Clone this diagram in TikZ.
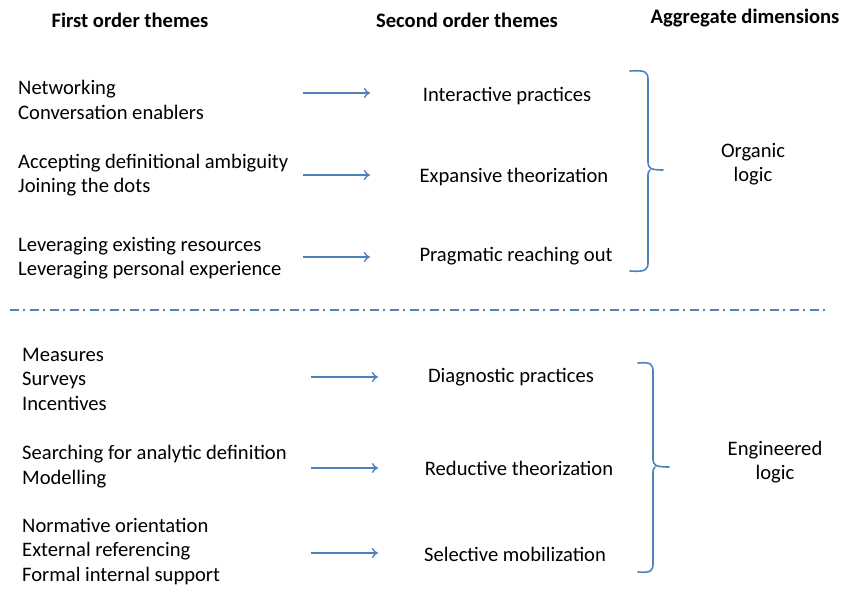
\documentclass[tikz,border=0pt]{standalone}
\usepackage{fontspec}
\setmainfont{Carlito}
\usepackage{tikz}
\usetikzlibrary{arrows.meta}
\definecolor{officeblue}{HTML}{4F81BD}

\begin{document}
\begin{tikzpicture}[x=1pt, y=-1pt,
  txt/.style={font=\fontsize{20.6}{24.5}\selectfont, inner sep=0pt, align=left},
  head/.style={font=\fontsize{20.6}{24.5}\selectfont\bfseries, inner sep=0pt},
  themearrow/.style={officeblue, line width=1.4pt, -{To[length=6pt,width=10pt]}},
  bracket/.style={officeblue, line width=1.6pt, line cap=round, line join=round}]
  \useasboundingbox (0,0) rectangle (845,591);
  % headers
  \node[head] (h1) at (130,20) {First order themes};
  \node[head] (h2) at (467,20) {Second order themes};
  \node[head] (h3) at (745,18) {Aggregate dimensions};
  % organic part
  \node[txt, anchor=west] (f1) at (18,100) {Networking\\Conversation enablers};
  \node[txt, anchor=west] (f2) at (18,175) {Accepting definitional ambiguity\\Joining the dots};
  \node[txt, anchor=west] (f3) at (18,258) {Leveraging existing resources\\Leveraging personal experience};
  \node[txt] (s1) at (507,96) {Interactive practices};
  \node[txt] (s2) at (514,177) {Expansive theorization};
  \node[txt] (s3) at (516,256) {Pragmatic reaching out};
  \coordinate (a1) at (303,93);  \coordinate (b1) at (370,93);
  \coordinate (a2) at (303,175); \coordinate (b2) at (370,175);
  \coordinate (a3) at (303,257); \coordinate (b3) at (370,257);
  \draw[themearrow] (a1) -- (b1);
  \draw[themearrow] (a2) -- (b2);
  \draw[themearrow] (a3) -- (b3);
  \draw[bracket] (630,71) .. controls (646,70) and (648,72) .. (648,80) -- (648,162)
    .. controls (648,168) and (650,170) .. (663,170)
    (650,170) .. controls (648,172) .. (648,178) -- (648,262)
    .. controls (648,270) and (646,272) .. (630,271);
  \node[txt, align=center] (d1) at (753,164) {Organic\\logic};
  % separator
  \draw[officeblue, line width=2pt, dash pattern=on 9pt off 4pt on 2pt off 5pt] (10,310) -- (828,310);
  % engineered part
  \node[txt, anchor=west] (f4) at (22,379) {Measures\\Surveys\\Incentives};
  \node[txt, anchor=west] (f5) at (22,466.5) {Searching for analytic definition\\Modelling};
  \node[txt, anchor=west] (f6) at (22,551.5) {Normative orientation\\External referencing\\Formal internal support};
  \node[txt] (s4) at (511,377) {Diagnostic practices};
  \node[txt] (s5) at (519,468) {Reductive theorization};
  \node[txt] (s6) at (515,554) {Selective mobilization};
  \coordinate (a4) at (311,377); \coordinate (b4) at (378,377);
  \coordinate (a5) at (311,468); \coordinate (b5) at (378,468);
  \coordinate (a6) at (311,553); \coordinate (b6) at (378,553);
  \draw[themearrow] (a4) -- (b4);
  \draw[themearrow] (a5) -- (b5);
  \draw[themearrow] (a6) -- (b6);
  \draw[bracket] (638,363) .. controls (651,362) and (653,364) .. (653,372) -- (653,459)
    .. controls (653,465) and (655,467) .. (669,467)
    (655,467) .. controls (653,469) .. (653,475) -- (653,563)
    .. controls (653,571) and (651,573) .. (638,572);
  \node[txt, align=center] (d2) at (775,462) {Engineered\\logic};
\end{tikzpicture}
\end{document}
